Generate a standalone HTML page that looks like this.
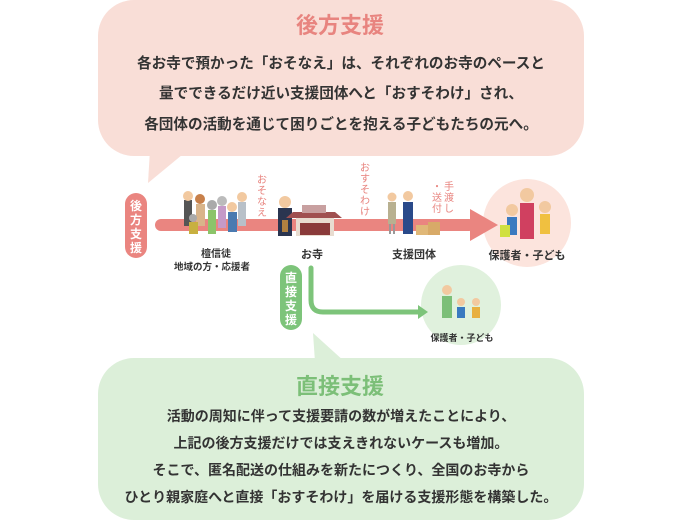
<!DOCTYPE html>
<html><head><meta charset="utf-8"><style>
html,body{margin:0;padding:0;background:#fff;}
svg{display:block;}
text{font-family:"Liberation Sans","Noto Sans CJK JP",sans-serif;}
</style></head><body>
<svg width="680" height="524" viewBox="0 0 680 524" xmlns="http://www.w3.org/2000/svg">
<!-- top bubble -->
<rect x="98" y="0" width="486" height="156" rx="36" fill="#f9ded7"/>
<path d="M150 150 L188 150 L148 183 Z" fill="#f9ded7"/>
<text x="340" y="33" text-anchor="middle" font-size="22" font-weight="bold" fill="#e8847f">後方支援</text>
<g font-size="14.6" fill="#333" text-anchor="middle" font-weight="bold">
<text x="341" y="68">各お寺で預かった「おそなえ」は、それぞれのお寺のペースと</text>
<text x="341" y="98">量でできるだけ近い支援団体へと「おすそわけ」され、</text>
<text x="341" y="129">各団体の活動を通じて困りごとを抱える子どもたちの元へ。</text>
</g>
<!-- bottom bubble -->
<rect x="98" y="358" width="486" height="162" rx="36" fill="#dcefd9"/>
<path d="M313 333 L315 362 L345 362 Z" fill="#dcefd9"/>
<text x="340" y="394" text-anchor="middle" font-size="22" font-weight="bold" fill="#7cbf78">直接支援</text>
<g font-size="14" fill="#333" text-anchor="middle" font-weight="bold">
<text x="341" y="421">活動の周知に伴って支援要請の数が増えたことにより、</text>
<text x="341" y="448">上記の後方支援だけでは支えきれないケースも増加。</text>
<text x="341" y="475">そこで、匿名配送の仕組みを新たにつくり、全国のお寺から</text>
<text x="341" y="502">ひとり親家庭へと直接「おすそわけ」を届ける支援形態を構築した。</text>
</g>
<!-- circles -->
<circle cx="527" cy="223" r="44" fill="#fce4dd"/>
<circle cx="461" cy="305" r="40" fill="#e0f1dd"/>
<!-- pink bar & arrow -->
<rect x="155" y="219" width="320" height="12" rx="6" fill="#ea8580"/>
<path d="M470 209 L498 225 L470 241 Z" fill="#ea8580"/>
<rect x="125" y="193" width="22" height="65" rx="11" fill="#ea8580"/>
<g font-size="12" fill="#fff" font-weight="bold" text-anchor="middle">
<text x="136" y="210">後</text><text x="136" y="224">方</text><text x="136" y="238">支</text><text x="136" y="252">援</text>
</g>
<!-- green line -->
<path d="M311 268 L311 300 Q311 312 323 312 L420 312" stroke="#7dc47a" stroke-width="5" fill="none" stroke-linecap="round"/>
<path d="M418 305 L428 312 L418 319 Z" fill="#7dc47a"/>
<rect x="280" y="265" width="22" height="65" rx="11" fill="#7dc47a"/>
<g font-size="12" fill="#fff" font-weight="bold" text-anchor="middle">
<text x="291" y="282">直</text><text x="291" y="296">接</text><text x="291" y="310">支</text><text x="291" y="324">援</text>
</g>
<!-- vertical pink labels -->
<g font-size="10" fill="#e8847f" text-anchor="middle">
<text x="262" y="183">お</text><text x="262" y="194">そ</text><text x="262" y="205">な</text><text x="262" y="216">え</text>
<text x="365" y="171">お</text><text x="365" y="182">す</text><text x="365" y="193">そ</text><text x="365" y="204">わ</text><text x="365" y="215">け</text>
<text x="449" y="190">手</text><text x="449" y="201">渡</text><text x="449" y="212">し</text>
<text x="437" y="190">・</text><text x="437" y="201">送</text><text x="437" y="212">付</text>
</g>
<!-- people group -->
<g>
<rect x="184" y="200" width="8" height="26" fill="#555"/><circle cx="188" cy="196" r="5" fill="#f2c9a0"/>
<rect x="196" y="204" width="9" height="22" fill="#d9b48a"/><circle cx="200" cy="199" r="5" fill="#c8804a"/>
<rect x="208" y="210" width="8" height="24" fill="#8cc46a"/><circle cx="212" cy="205" r="5" fill="#aaa"/>
<rect x="218" y="206" width="8" height="22" fill="#c59ac8"/><circle cx="222" cy="201" r="5" fill="#bbb"/>
<rect x="228" y="212" width="9" height="20" fill="#4a7ab0"/><circle cx="232" cy="207" r="5" fill="#f2c9a0"/>
<rect x="238" y="202" width="8" height="24" fill="#b8c0c8"/><circle cx="242" cy="197" r="5" fill="#f2c9a0"/>
<rect x="189" y="222" width="9" height="12" fill="#c8b040"/><circle cx="193" cy="218" r="4" fill="#aaa"/>
</g>
<!-- monk & temple -->
<circle cx="285" cy="202" r="6" fill="#f2c9a0"/>
<rect x="278" y="208" width="14" height="28" fill="#2a3550"/>
<rect x="282" y="220" width="6" height="12" fill="#b08040"/>
<path d="M293 212 L335 212 L342 218 L286 218 Z" fill="#a05050"/>
<rect x="302" y="205" width="24" height="8" fill="#c8a0a0"/>
<rect x="296" y="218" width="38" height="18" fill="#e8dcd0"/>
<rect x="300" y="223" width="30" height="12" fill="#8a3a3a"/>
<!-- support org -->
<circle cx="392" cy="197" r="4.5" fill="#f2c9a0"/><rect x="388" y="202" width="8" height="22" fill="#b8b090"/><rect x="389" y="224" width="2" height="10" fill="#999"/><rect x="393" y="224" width="2" height="10" fill="#999"/>
<circle cx="408" cy="196" r="5" fill="#f2c9a0"/><rect x="403" y="202" width="10" height="32" fill="#2a4a8a"/>
<rect x="416" y="225" width="12" height="10" fill="#e0b878"/><rect x="428" y="222" width="12" height="13" fill="#d8aa68"/>
<!-- family big -->
<circle cx="527" cy="195" r="7" fill="#f2c9a0"/><rect x="520" y="203" width="14" height="36" fill="#d04060"/>
<circle cx="512" cy="210" r="6" fill="#f2c9a0"/><rect x="507" y="217" width="10" height="18" fill="#3a7ac0"/>
<circle cx="545" cy="207" r="6" fill="#f2c9a0"/><rect x="540" y="214" width="10" height="20" fill="#f0c040"/>
<rect x="500" y="225" width="10" height="12" fill="#d0e040"/>
<!-- family small -->
<circle cx="447" cy="290" r="5" fill="#f2c9a0"/><rect x="442" y="296" width="10" height="22" fill="#7cbf78"/>
<circle cx="461" cy="302" r="4" fill="#f2c9a0"/><rect x="457" y="307" width="8" height="11" fill="#3a7ac0"/>
<circle cx="476" cy="302" r="4" fill="#f2c9a0"/><rect x="472" y="307" width="8" height="11" fill="#e8b040"/>
<!-- labels -->
<g font-size="10" fill="#333" text-anchor="middle" font-weight="bold">
<text x="216" y="257">檀信徒</text>
<text x="212" y="270" font-size="9.5">地域の方・応援者</text>
<text x="312" y="258" font-size="11">お寺</text>
<text x="414" y="258" font-size="11">支援団体</text>
<text x="527" y="259" font-size="11">保護者・子ども</text>
<text x="462" y="341" font-size="9">保護者・子ども</text>
</g>
</svg>
</body></html>
